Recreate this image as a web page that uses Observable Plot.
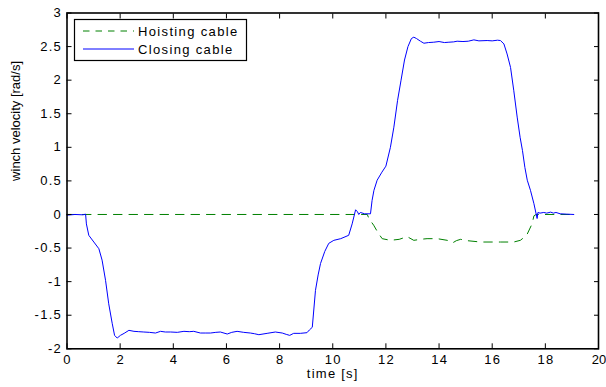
<!DOCTYPE html>
<html>
<head>
<meta charset="utf-8">
<script src="https://cdn.jsdelivr.net/npm/d3@7"></script>
<script src="https://cdn.jsdelivr.net/npm/@observablehq/plot@0.6"></script>
<style>
html,body{margin:0;padding:0;background:#fff;}
#chart{position:relative;width:606px;height:387px;}
</style>
</head>
<body>
<div id="chart"></div>
<script>
const xTicks = [0,2,4,6,8,10,12,14,16,18,20];
const yTicks = [-2,-1.5,-1,-0.5,0,0.5,1,1.5,2,2.5,3];
const seriesNames = ["Hoisting cable","Closing cable"];

const closingT = [0,0.3,0.6,0.7,0.73,0.82,1.01,1.2,1.32,1.45,1.57,1.7,1.79,1.89,2.01,2.15,2.33,2.52,2.7,2.89,3.1,3.33,3.52,3.7,3.9,4.15,4.4,4.6,4.77,5.02,5.2,5.4,5.6,5.77,6.03,6.2,6.4,6.65,6.9,7.05,7.22,7.53,7.84,8.1,8.25,8.38,8.53,8.78,9.03,9.12,9.23,9.35,9.45,9.54,9.7,9.85,10.04,10.3,10.6,10.73,10.86,10.93,10.98,11.04,11.2,11.42,11.48,11.55,11.67,11.85,12.0,12.17,12.3,12.44,12.57,12.7,12.83,12.96,13.05,13.15,13.3,13.43,13.6,13.8,14.0,14.2,14.37,14.55,14.68,14.9,15.1,15.31,15.5,15.81,16.0,16.2,16.31,16.44,16.56,16.69,16.81,16.94,17.05,17.14,17.23,17.32,17.44,17.57,17.69,17.72,17.8,17.94,18.05,18.2,18.3,18.4,18.56,18.8,19.07];
const closingV = [-0.01,0,-0.005,0.005,-0.14,-0.31,-0.41,-0.51,-0.68,-0.98,-1.33,-1.62,-1.8,-1.84,-1.8,-1.77,-1.725,-1.74,-1.745,-1.75,-1.755,-1.765,-1.74,-1.75,-1.75,-1.755,-1.74,-1.745,-1.74,-1.765,-1.765,-1.765,-1.755,-1.75,-1.78,-1.755,-1.74,-1.755,-1.765,-1.775,-1.79,-1.77,-1.75,-1.765,-1.785,-1.8,-1.77,-1.77,-1.76,-1.72,-1.68,-1.13,-0.9,-0.73,-0.55,-0.43,-0.385,-0.36,-0.31,-0.14,0.07,0.04,0.0,0.03,0.01,0.01,0.21,0.36,0.51,0.63,0.72,1.0,1.3,1.7,2.0,2.3,2.5,2.62,2.64,2.62,2.58,2.55,2.56,2.565,2.575,2.56,2.565,2.57,2.58,2.575,2.58,2.6,2.585,2.59,2.585,2.595,2.59,2.54,2.39,2.19,1.85,1.45,1.15,0.95,0.7,0.51,0.36,0.16,-0.06,0.03,0.02,0.03,0.02,0.035,0.02,0.03,0.01,0.005,0];

const hoistT = [0,11.3,11.36,11.54,11.7,11.86,12.17,12.5,12.8,13.05,13.3,13.55,13.93,14.31,14.5,14.65,14.81,15.06,15.56,16.31,16.81,17.06,17.2,17.32,17.5,17.57,17.65,19.07];
const hoistV = [0,0,-0.06,-0.16,-0.27,-0.36,-0.385,-0.37,-0.33,-0.385,-0.37,-0.36,-0.36,-0.385,-0.425,-0.39,-0.37,-0.39,-0.41,-0.41,-0.41,-0.385,-0.34,-0.29,-0.14,-0.02,0,0];

const closing = closingT.map((t,i)=>({t, v: closingV[i]}));
const hoist = hoistT.map((t,i)=>({t, v: hoistV[i]}));

const blue = "#0000ff", green = "#008000";
const dash = "8.5,7";
const font = "Liberation Sans, Arial, sans-serif";

const plot = Plot.plot({
  width: 606,
  height: 387,
  marginLeft: 66.5,
  marginRight: 8,
  marginTop: 12.5,
  marginBottom: 38.7,
  style: {fontFamily: font, fontSize: "13px", color: "#000", background: "#fff"},
  x: {domain: [0,20]},
  y: {domain: [-2,3]},
  marks: [
    Plot.line(hoist, {x: "t", y: "v", stroke: green, strokeWidth: 1, strokeDasharray: dash}),
    Plot.line(closing, {x: "t", y: "v", stroke: blue, strokeWidth: 1}),
    Plot.axisX(xTicks, {anchor: "bottom", tickSize: 0, tickPadding: 6, dx: 0.6, label: null, fontSize: 13}),
    Plot.axisY(yTicks, {anchor: "left", tickSize: 0, tickPadding: 5, label: null, fontSize: 13, tickFormat: d => String(d)}),
    Plot.axisX(xTicks, {anchor: "bottom", tickSize: 5, dy: -5, tickFormat: () => "", label: null}),
    Plot.axisX(xTicks, {anchor: "top", tickSize: 5, dy: 5, tickFormat: () => "", label: null}),
    Plot.axisY(yTicks, {anchor: "left", tickSize: 5, dx: 5, tickFormat: () => "", label: null}),
    Plot.axisY(yTicks, {anchor: "right", tickSize: 5, dx: -5, tickFormat: () => "", label: null}),
    Plot.frame({stroke: "#000", strokeWidth: 1.6}),
    Plot.text(["time [s]"], {frameAnchor: "bottom", dy: 29.5, fontSize: 13, fill: "#000"}),
    Plot.text(["winch velocity [rad/s]"], {frameAnchor: "left", dx: -51, rotate: -90, fontSize: 13, fill: "#000"})
  ]
});
document.getElementById("chart").appendChild(plot);

const svg = d3.select(plot);
// reference text is horizontally wide: widen horizontal text with letter spacing
svg.selectAll("text").style("letter-spacing", "1.25px");
svg.selectAll("text").filter(function(){
  return this.textContent === "winch velocity [rad/s]" || this.textContent === "20";
}).style("letter-spacing", "0px");

// legend box
const lg = svg.append("g");
lg.append("rect").attr("x", 74.5).attr("y", 19.5).attr("width", 172).attr("height", 41)
  .attr("fill", "#fff").attr("stroke", "#000").attr("stroke-width", 1.2);
const rows = [
  {name: seriesNames[0], color: green, dash: "6.5,6", y: 31},
  {name: seriesNames[1], color: blue, dash: null, y: 49}
];
rows.forEach(r => {
  lg.append("line").attr("x1", 83).attr("x2", 134).attr("y1", r.y).attr("y2", r.y)
    .attr("stroke", r.color).attr("stroke-width", 1).attr("stroke-dasharray", r.dash);
  lg.append("text").attr("x", 138).attr("y", r.y).attr("dy", "0.35em")
    .attr("text-anchor", "start")
    .attr("font-family", font).attr("font-size", 13).attr("fill", "#000")
    .style("letter-spacing", "1.35px").text(r.name);
});
</script>
</body>
</html>
